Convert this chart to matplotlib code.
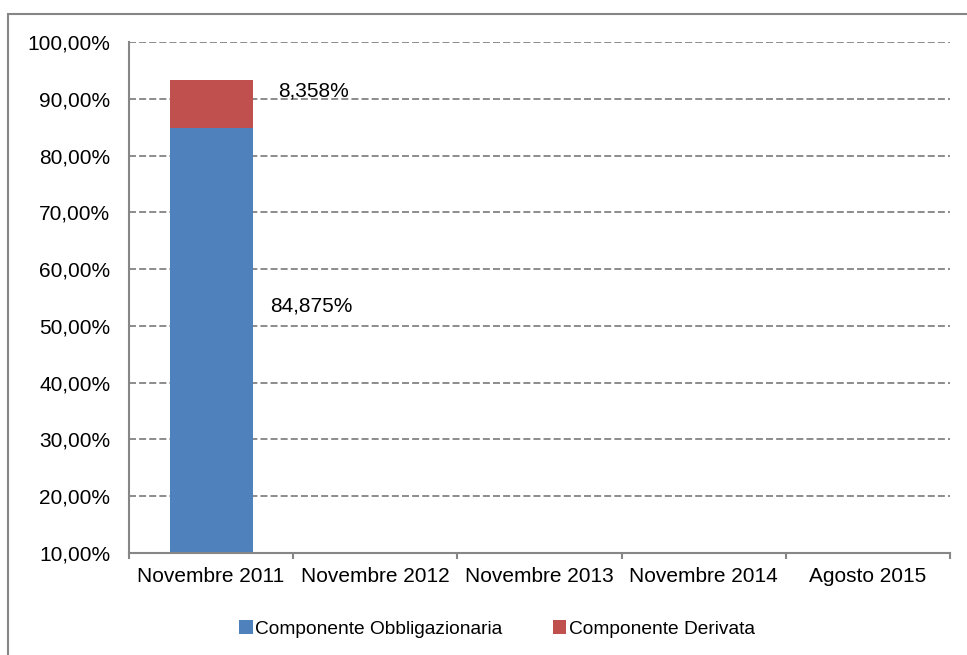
import numpy as np
import matplotlib.pyplot as plt
from matplotlib.patches import Rectangle
from matplotlib.ticker import FuncFormatter, MultipleLocator

categories = ['Novembre 2011', 'Novembre 2012', 'Novembre 2013',
              'Novembre 2014', 'Agosto 2015']
obbligazionaria = [84.875, 0, 0, 0, 0]
derivata = [8.358, 0, 0, 0, 0]
series_names = ['Componente Obbligazionaria', 'Componente Derivata']

blue = '#4F81BD'
red = '#C0504D'
grey = '#868686'

plt.rcParams['font.family'] = ['Liberation Sans', 'DejaVu Sans']

fig = plt.figure(figsize=(9.67, 6.55), dpi=100)
ax = fig.add_axes([129 / 967, 1 - 553 / 655, (950 - 129) / 967, (553 - 42) / 655])

x = np.arange(len(categories))
w = 0.506
# only the first period has data
b1 = ax.bar(x[:1], obbligazionaria[:1], w, color=blue, label=series_names[0])
b2 = ax.bar(x[:1], derivata[:1], w, bottom=obbligazionaria[:1], color=red,
            label=series_names[1])

ax.set_xlim(-0.5, len(categories) - 0.5)
ax.set_ylim(10, 100)
ax.yaxis.set_major_locator(MultipleLocator(10))
ax.yaxis.set_major_formatter(FuncFormatter(lambda v, p: ('%.2f%%' % v).replace('.', ',')))

ax.grid(axis='y', color='#8c8c8c', linestyle=(0, (3.6, 1.6)), linewidth=1.4)
ax.set_axisbelow(True)

for s in ['top', 'right']:
    ax.spines[s].set_visible(False)
for s in ['left', 'bottom']:
    ax.spines[s].set_color(grey)
    ax.spines[s].set_linewidth(1.5)

ax.set_xticks(x)
ax.set_xticklabels(categories)
ax.set_xticks(np.arange(len(categories) + 1) - 0.5, minor=True)
ax.tick_params(axis='x', which='major', length=0, pad=10, labelsize=15)
ax.tick_params(axis='x', which='minor', length=4.5, width=1.5, color=grey)
ax.tick_params(axis='y', length=0, pad=13.5, labelsize=15)

# data labels, placed to the right of the bar like the original
lab_der = ('%.3f%%' % derivata[0]).replace('.', ',')
lab_obb = ('%.3f%%' % obbligazionaria[0]).replace('.', ',')
ax.text(x[0] + 0.41, obbligazionaria[0] + derivata[0] / 2 + 2.4, lab_der,
        fontsize=15, va='center', ha='left')
ax.text(x[0] + 0.36, (10 + obbligazionaria[0]) / 2 + 6, lab_obb,
        fontsize=15, va='center', ha='left')

fig.legend(handles=[b1, b2], labels=series_names, loc='center',
           bbox_to_anchor=(497 / 967, 1 - 629 / 655), ncol=2, frameon=False,
           fontsize=13.8, handlelength=0.7, handleheight=0.7,
           handletextpad=0.15, columnspacing=2.6)

# outer chart-area border (cut off on the right and bottom)
fig.patches.append(Rectangle((8 / 967, -0.1), 1.2, 1.1 - 13.5 / 655,
                             transform=fig.transFigure, fill=False,
                             edgecolor=grey, linewidth=1.5))

fig.savefig('out.png', dpi=100)
